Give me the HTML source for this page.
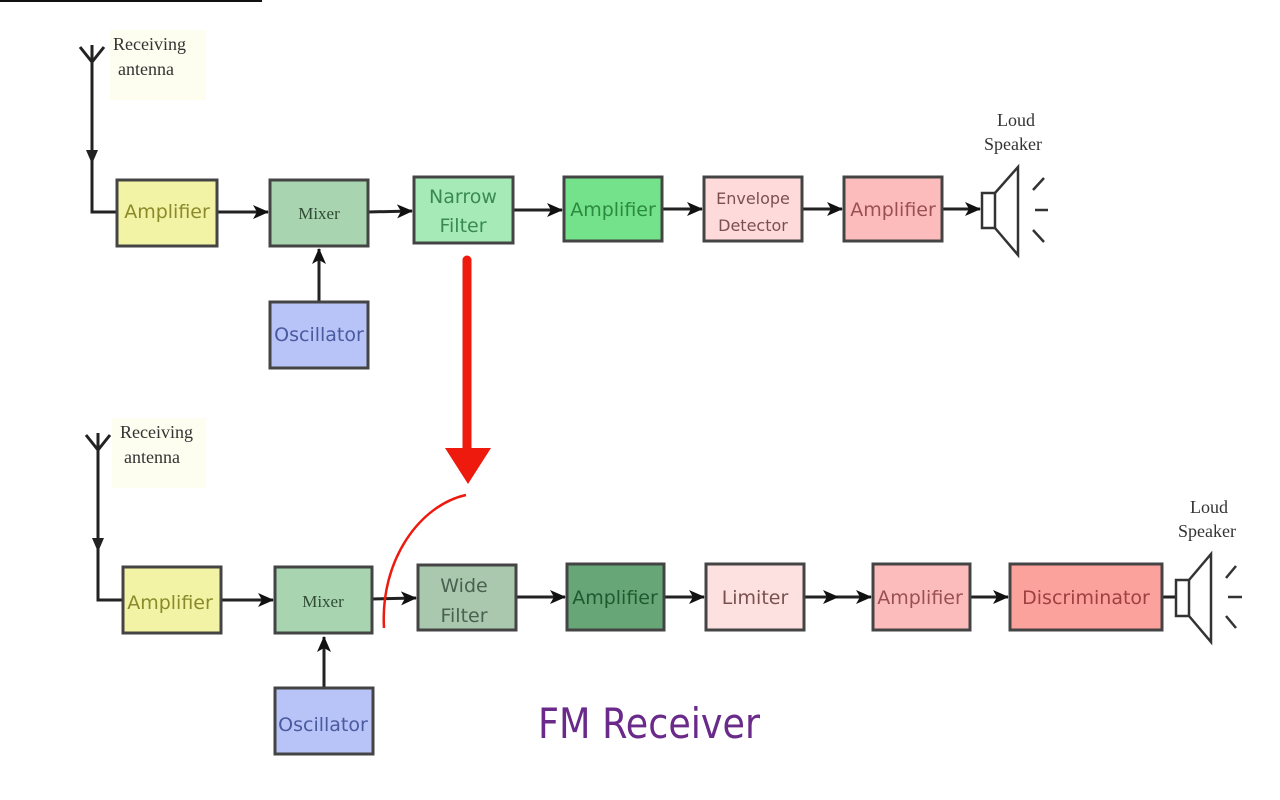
<!DOCTYPE html>
<html><head><meta charset="utf-8"><style>
html,body{margin:0;padding:0;background:#fff;width:1280px;height:800px;overflow:hidden}
svg{display:block}
.b{font-family:"DejaVu Sans","Liberation Sans",sans-serif;font-size:19px}
.s{font-family:"Liberation Serif",serif;font-size:18px;fill:#333}
</style></head><body>
<svg width="1280" height="800" viewBox="0 0 1280 800">
<defs>
<marker id="a" markerWidth="16" markerHeight="14" refX="15" refY="7" orient="auto" markerUnits="userSpaceOnUse"><path d="M0,0 L16,7 L0,14 L4,7z" fill="#111"/></marker>
</defs>
<rect x="0" y="0" width="262" height="2" fill="#111"/>
<g stroke="#222" stroke-width="3" fill="none">
<path d="M80,47 L92,62 L104,47 M92,45 L92,212 L117,212"/>
<path d="M217,212 L268,212" marker-end="url(#a)"/>
<path d="M368,212 L412,211" marker-end="url(#a)"/>
<path d="M513,210 L562,210" marker-end="url(#a)"/>
<path d="M662,209 L702,209" marker-end="url(#a)"/>
<path d="M802,209 L842,209" marker-end="url(#a)"/>
<path d="M942,209 L980,209" marker-end="url(#a)"/>
<path d="M319,302 L319,249" marker-end="url(#a)"/>
<path d="M86,435 L98,450 L110,435 M98,433 L98,600 L123,600"/>
<path d="M221,600 L273,600" marker-end="url(#a)"/>
<path d="M372,599 L416,598" marker-end="url(#a)"/>
<path d="M516,597 L565,597" marker-end="url(#a)"/>
<path d="M664,597 L704,597" marker-end="url(#a)"/>
<path d="M804,597 L838,597" marker-end="url(#a)"/>
<path d="M838,597 L871,597" marker-end="url(#a)"/>
<path d="M970,597 L1008,597" marker-end="url(#a)"/>
<path d="M1162,597 L1176,597"/>
<path d="M324,688 L324,637" marker-end="url(#a)"/>
</g>
<path d="M86,150 L98,150 L92,164z" fill="#222"/>
<path d="M92,538 L104,538 L98,552z" fill="#222"/>
<rect x="110" y="30" width="96" height="70" fill="#fdfdf0"/>
<text class="s" x="113" y="50">Receiving</text><text class="s" x="118" y="75">antenna</text>
<rect x="112" y="418" width="94" height="70" fill="#fdfdf0"/>
<text class="s" x="120" y="438">Receiving</text><text class="s" x="124" y="463">antenna</text>
<text class="s" x="997" y="126">Loud</text><text class="s" x="984" y="150">Speaker</text>
<text class="s" x="1190" y="513">Loud</text><text class="s" x="1178" y="537">Speaker</text>
<g stroke="#444" stroke-width="3">
<rect x="117" y="180" width="100" height="66" fill="#f3f3a6"/>
<rect x="270" y="180" width="98" height="66" fill="#a9d4b0"/>
<rect x="414" y="177" width="99" height="66" fill="#a6eab8"/>
<rect x="564" y="177" width="98" height="64" fill="#74e28a"/>
<rect x="704" y="177" width="98" height="64" fill="#fedada"/>
<rect x="844" y="177" width="98" height="64" fill="#fdbcbc"/>
<rect x="270" y="302" width="98" height="66" fill="#b8c3f8"/>
<rect x="123" y="567" width="98" height="66" fill="#f3f3a6"/>
<rect x="275" y="567" width="97" height="66" fill="#a9d4b0"/>
<rect x="418" y="565" width="98" height="65" fill="#a9c8ad"/>
<rect x="567" y="564" width="97" height="66" fill="#67a677"/>
<rect x="706" y="564" width="98" height="66" fill="#fde0e0"/>
<rect x="873" y="564" width="97" height="66" fill="#fcbcbc"/>
<rect x="1010" y="564" width="152" height="66" fill="#fba29c"/>
<rect x="275" y="688" width="98" height="66" fill="#b8c3f8"/>
</g>
<g class="b">
<text x="167" y="218" text-anchor="middle" fill="#8a8a2a">Amplifier</text>
<text x="319" y="219" text-anchor="middle" fill="#2e4a34" style="font-family:'Liberation Serif',serif;font-size:17px">Mixer</text>
<text x="463" y="203" text-anchor="middle" fill="#3a8a50">Narrow</text>
<text x="463" y="232" text-anchor="middle" fill="#3a8a50">Filter</text>
<text x="613" y="216" text-anchor="middle" fill="#2a8a3e">Amplifier</text>
<text x="753" y="204" text-anchor="middle" fill="#7a5050" style="font-size:16px">Envelope</text>
<text x="753" y="231" text-anchor="middle" fill="#7a5050" style="font-size:16px">Detector</text>
<text x="893" y="216" text-anchor="middle" fill="#9a5050">Amplifier</text>
<text x="319" y="341" text-anchor="middle" fill="#4a5aa0">Oscillator</text>
<text x="170" y="609" text-anchor="middle" fill="#8a8a2a">Amplifier</text>
<text x="323" y="607" text-anchor="middle" fill="#2e4a34" style="font-family:'Liberation Serif',serif;font-size:17px">Mixer</text>
<text x="464" y="592" text-anchor="middle" fill="#4a6050">Wide</text>
<text x="464" y="622" text-anchor="middle" fill="#4a6050">Filter</text>
<text x="615" y="604" text-anchor="middle" fill="#1f5a2e">Amplifier</text>
<text x="755" y="604" text-anchor="middle" fill="#7a5050">Limiter</text>
<text x="920" y="604" text-anchor="middle" fill="#9a5050">Amplifier</text>
<text x="1086" y="604" text-anchor="middle" fill="#a04040">Discriminator</text>
<text x="323" y="731" text-anchor="middle" fill="#4a5aa0">Oscillator</text>
</g>
<g stroke="#333" stroke-width="2.5" fill="#fff">
<rect x="982" y="193" width="13" height="35"/>
<path d="M995,193 L1018,167 L1018,255 L995,228" fill="none"/>
<path d="M1033,190 L1044,178 M1035,210 L1048,210 M1033,230 L1044,242" fill="none"/>
<rect x="1176" y="580" width="13" height="36"/>
<path d="M1189,580 L1211,554 L1211,642 L1189,616" fill="none"/>
<path d="M1226,578 L1236,566 M1228,597 L1242,597 M1226,616 L1236,628" fill="none"/>
</g>
<line x1="467" y1="260" x2="467" y2="452" stroke="#ee1a0e" stroke-width="9" stroke-linecap="round"/>
<path d="M445,448 L491,448 L468,484z" fill="#ee1a0e"/>
<path d="M466,495 C420,505 380,560 384,628" stroke="#ee1a0e" stroke-width="2.5" fill="none"/>
<text x="538" y="738" textLength="222" lengthAdjust="spacingAndGlyphs" style="font-family:'DejaVu Sans','Liberation Sans',sans-serif;font-size:42px;fill:#6a2a8a">FM Receiver</text>
</svg>
</body></html>
